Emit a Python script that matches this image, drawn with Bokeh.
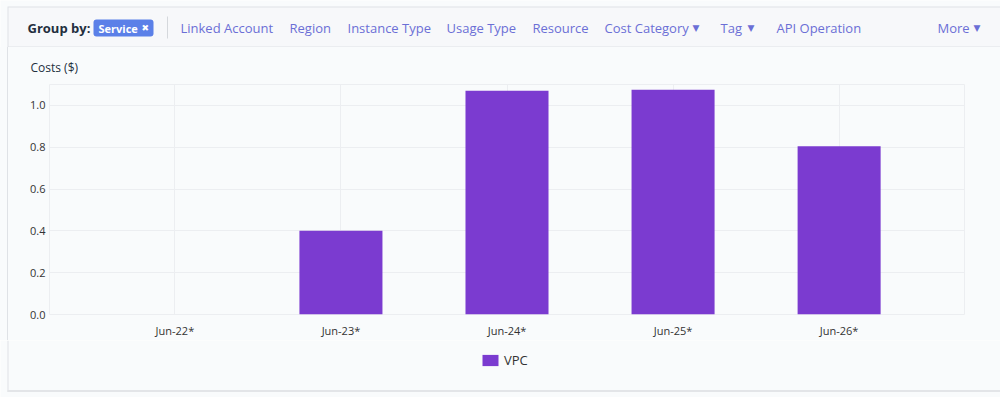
from bokeh.plotting import figure
from bokeh.layouts import column
from bokeh.models import (FactorRange, Range1d, Label, BoxAnnotation, Legend, LegendItem,
                          FixedTicker, NumeralTickFormatter)
from bokeh.embed import file_html
from bokeh.resources import INLINE

# ---- data ----
dates = ["Jun-22*", "Jun-23*", "Jun-24*", "Jun-25*", "Jun-26*"]
vpc_costs = [0.0, 0.40, 1.07, 1.075, 0.805]
y_ticks = [0.0, 0.2, 0.4, 0.6, 0.8, 1.0]
series_name = "VPC"
group_by_active = "Service"
group_by_options = ["Linked Account", "Region", "Instance Type", "Usage Type",
                    "Resource", "Cost Category", "Tag", "API Operation", "More"]
group_by_dropdown = [False, False, False, False, False, True, True, False, True]
y_title = "Costs ($)"

# ---- style / layout constants ----
W = 1000
HEAD_H, MAIN_H, LEG_H = 47, 293, 57
FONT = "Open Sans"
BAR = "#7b3bd0"
LINK = "#6b6fd6"
BG = "#f9fbfc"
CARD_LINE = "#dfe2e6"
GRID = "#eceef1"
LEFT_EDGE_BG = ("linear-gradient(to right, %s 7px, %s 7px, %s 8px, %s 8px)"
                % (BG, CARD_LINE, CARD_LINE, BG))


def plain_fig(h):
    f = figure(width=W, height=h, x_range=Range1d(0, W), y_range=Range1d(h, 0),
               output_backend="svg", toolbar_location=None,
               x_axis_location=None, y_axis_location=None,
               min_border=0, min_border_left=0, min_border_right=0,
               min_border_top=0, min_border_bottom=0, frame_align=False)
    f.grid.visible = False
    f.outline_line_color = None
    f.background_fill_color = BG
    f.border_fill_color = BG
    return f


def box(fig, l, r_, t, b, color, **kw):
    fig.add_layout(BoxAnnotation(left=l, right=r_, top=t, bottom=b,
                                 fill_color=color, fill_alpha=1, line_color=None, **kw))


# ================= header =================
hd = plain_fig(HEAD_H)
box(hd, 7, W + 2, 6, 47, CARD_LINE)          # card border (top/left) + header bottom line
box(hd, 8, W + 2, 7, 46, "#f7f8fa")          # header fill
box(hd, 93, 153, 19, 36, "#5b80e8", border_radius=3)   # active badge
box(hd, 166.5, 167.5, 16, 38, "#d5d8dc")     # separator


def hlabel(text, px, py, size="13px", color=LINK, style="normal", font=FONT):
    hd.add_layout(Label(x=px, y=py, text=text, text_font=font, text_font_size=size,
                        text_color=color, text_font_style=style,
                        text_baseline="middle", text_align="left"))


hlabel("Group by:", 27, 27.5, color="#232f3e", style="bold")
hlabel(group_by_active, 98, 27.5, size="11px", color="white", style="bold")
hlabel("✖", 141, 27.5, size="9px", color="white", font="DejaVu Sans")
opt_x = [180, 289, 347, 446, 532, 604, 720, 776, 937]
tri_x = [None, None, None, None, None, 692, 747, None, 973]
for name, ox, dd, tx in zip(group_by_options, opt_x, group_by_dropdown, tri_x):
    hlabel(name, ox, 27.5)
    if dd:
        hlabel("▼", tx, 27, size="9px", font="DejaVu Sans")

# ================= main chart =================
FRAME_L, FRAME_T, FRAME_R, FRAME_B = 49, 84, 964, 315   # page pixels
p = figure(width=W, height=MAIN_H,
           x_range=FactorRange(*dates, range_padding=0.255, range_padding_units="absolute"),
           y_range=Range1d(0, 1.1),
           output_backend="svg", toolbar_location=None, frame_align=False,
           min_border_left=FRAME_L, min_border_right=W - FRAME_R,
           min_border_top=FRAME_T - HEAD_H, min_border_bottom=HEAD_H + MAIN_H - FRAME_B,
           title=y_title)
p.border_fill_alpha = 0
p.background_fill_color = BG
p.outline_line_color = GRID
p.styles = {"background": LEFT_EDGE_BG}
p.title.align = "left"
p.title.offset = -19
p.title.standoff = 18
p.title.text_font = FONT
p.title.text_font_size = "12px"
p.title.text_font_style = "normal"
p.title.text_color = "#232f3e"

r = p.vbar(x=dates, top=vpc_costs, width=0.5, fill_color=BAR, line_color=None)

p.yaxis.ticker = FixedTicker(ticks=y_ticks)
p.yaxis.formatter = NumeralTickFormatter(format="0.0")
for ax in (p.xaxis[0], p.yaxis[0]):
    ax.axis_line_color = None
    ax.major_tick_line_color = None
    ax.minor_tick_line_color = None
    ax.major_tick_in = 0
    ax.major_tick_out = 0
    ax.major_label_text_font = FONT
    ax.major_label_text_color = "#333333"
    ax.major_label_text_font_size = "11px"
p.xaxis.major_label_standoff = 8
p.yaxis.major_label_standoff = 4
p.xgrid.grid_line_color = GRID
p.ygrid.grid_line_color = GRID

# ================= legend strip =================
lg = plain_fig(LEG_H)
box(lg, 7, 8, 0, 51.5, CARD_LINE)
box(lg, 7, W + 2, 49.5, 51.5, "#e3e5e8")
# zero-size proxy glyph so that the legend can draw its swatch
lr = lg.vbar(x=[0], top=[0], bottom=[0], width=0, fill_color=BAR, line_color=None)
legend = Legend(items=[LegendItem(label=series_name, renderers=[lr])],
                orientation="horizontal", location=(480, 28),
                glyph_width=20, glyph_height=14, label_height=14,
                padding=4, margin=0, label_standoff=4,
                label_text_font=FONT, label_text_font_size="13px",
                label_text_color="#333333",
                border_line_color=None, background_fill_alpha=0)
lg.add_layout(legend)

layout = column(hd, p, lg, spacing=0)
open("out.html", "w").write(file_html(layout, INLINE))
